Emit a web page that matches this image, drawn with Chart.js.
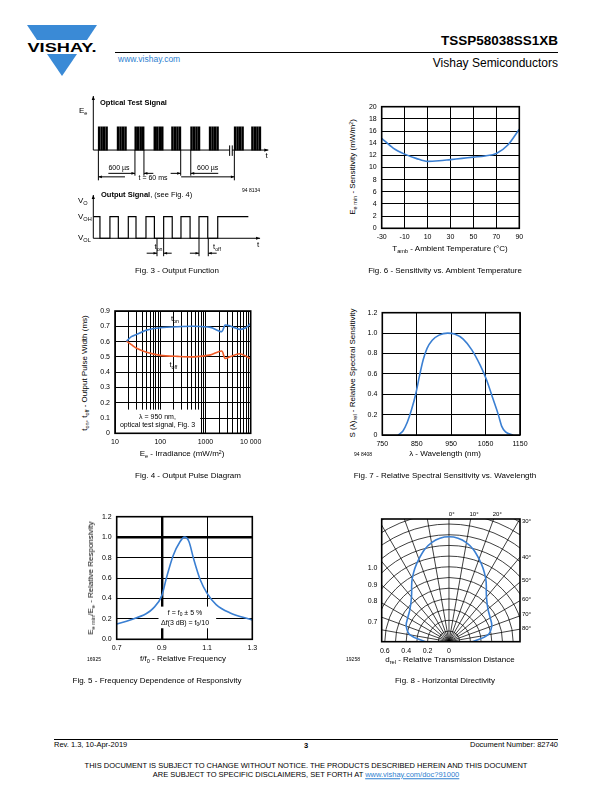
<!DOCTYPE html>
<html><head><meta charset="utf-8"><title>TSSP58038SS1XB</title>
<script src="https://cdn.jsdelivr.net/npm/chart.js@4.4.1/dist/chart.umd.min.js"></script>
<style>
html,body{margin:0;padding:0;background:#fff;}
#page{position:relative;width:612px;height:792px;overflow:hidden;background:#fff;font-family:"Liberation Sans",Arial,Helvetica,sans-serif;color:#000;}
#page canvas{position:absolute;}
.t{position:absolute;white-space:nowrap;line-height:1;}
.t sub{font-size:70%;vertical-align:-0.3em;line-height:0;}
.t sup{font-size:65%;vertical-align:0.45em;line-height:0;}
.rule{position:absolute;height:0;border-top:1px solid #000;}
a{color:#2f7fd0;}
</style></head>
<body><div id="page">
<svg style="position:absolute;left:0;top:0" width="110" height="80">
  <polygon points="27,25 97,25 87,40 37,40" fill="#3a8ad6"/>
  <polygon points="47,54 77,54 62,76" fill="#3a8ad6"/>
  <text x="62" y="51.5" text-anchor="middle" font-family="Liberation Sans, Arial" font-weight="bold" font-size="13" textLength="69" lengthAdjust="spacingAndGlyphs">VISHAY.</text>
</svg>
<div class="rule" style="left:115px;top:52px;width:443px"></div>
<div class="rule" style="left:54px;top:739px;width:504px"></div>
<canvas id="c3a"></canvas><canvas id="c3b"></canvas>
<canvas id="c6"></canvas><canvas id="c4"></canvas><canvas id="c7"></canvas>
<canvas id="c5"></canvas><canvas id="c8"></canvas>
</div>
<script>
// ---------------- DATA ----------------
// Fig. 3 - Output Function (diagram units along time axis)
const burstStarts3 = [2.9, 13.7, 23.8, 34.7, 44.8, 55.7, 66.3, 80.6, 90.5];
const pulseOffsets3 = [0.43, 1.86, 3.29, 4.71];
const outTimes3 = [0, 3.8, 9.5, 14.3, 20, 24.4, 30.1, 34.9, 40.2, 45.1, 50.1, 55.3, 60.4, 65.4, 71.1, 88.6];
const outLevels3 = [1, 0, 1, 0, 1, 0, 1, 0, 1, 0, 1, 0, 1, 0, 1, 1];
// Fig. 6 - Sensitivity vs. ambient temperature
const temp6 = [-30, -20, -10, 0, 10, 20, 30, 40, 50, 60, 70, 80, 90];
const sens6 = [14.8, 13.2, 12.2, 11.5, 11.0, 11.1, 11.3, 11.5, 11.7, 11.9, 12.3, 13.7, 16.3];
const xTicks6 = [-30, -10, 10, 30, 50, 70, 90];
const yTicks6 = [0, 2, 4, 6, 8, 10, 12, 14, 16, 18, 20];
// Fig. 4 - Output pulse diagram
const irr4 = [18, 23, 30, 50, 100, 240, 550, 1300, 2290, 2700, 3400, 5700, 7800, 10000];
const ton4 = [0.603, 0.632, 0.647, 0.675, 0.69, 0.697, 0.70, 0.693, 0.665, 0.708, 0.703, 0.68, 0.69, 0.719];
const toff4 = [0.603, 0.58, 0.556, 0.53, 0.51, 0.503, 0.50, 0.513, 0.538, 0.49, 0.50, 0.52, 0.505, 0.486];
const xMajor4 = [10, 100, 1000, 10000];
const xLabels4 = ['10', '100', '1000', '10 000'];
const yTicks4 = [0, 0.1, 0.2, 0.3, 0.4, 0.5, 0.6, 0.7, 0.8];
const yLabels4 = ['0', '0.1', '0.2', '0.3', '0.4', '0.5', '0.6', '0.7', '0.9'];
// Fig. 7 - Relative spectral sensitivity
const wl7 = [796, 810, 822, 835, 847, 858, 869, 880, 895, 915, 940, 960, 985, 1010, 1035, 1053, 1072, 1087, 1097, 1108, 1130];
const srel7 = [0, 0.04, 0.12, 0.25, 0.40, 0.58, 0.74, 0.85, 0.93, 0.98, 1.0, 0.99, 0.94, 0.835, 0.68, 0.54, 0.35, 0.2, 0.085, 0.03, 0];
const xTicks7 = [750, 850, 950, 1050, 1150];
const yTicks7 = [0, 0.2, 0.4, 0.6, 0.8, 1.0, 1.2];
const yLabels7 = ['0', '0.2', '0.4', '0.6', '0.8', '1.0', '1.2'];
// Fig. 5 - Frequency dependence of responsivity
const f5 = [0.7, 0.76, 0.83, 0.86, 0.90, 0.92, 0.95, 0.98, 1.0, 1.02, 1.04, 1.07, 1.10, 1.14, 1.20, 1.30];
const resp5 = [0.15, 0.19, 0.25, 0.30, 0.43, 0.60, 0.82, 0.955, 1.0, 0.955, 0.79, 0.58, 0.45, 0.34, 0.26, 0.19];
const xTicks5 = [0.7, 0.9, 1.1, 1.3];
const xLabels5 = ['0.7', '0.9', '1.1', '1.3'];
const yTicks5 = [0, 0.2, 0.4, 0.6, 0.8, 1.0, 1.2];
const yLabels5 = ['0.0', '0.2', '0.4', '0.6', '0.8', '1.0', '1.2'];
// Fig. 8 - Horizontal directivity
const angle8 = [-90, -80, -70, -60, -50, -40, -30, -20, -10, 0, 10, 20, 30, 40, 50, 60, 70, 80, 90];
const drel8 = [0.22, 0.37, 0.425, 0.445, 0.475, 0.545, 0.685, 0.82, 0.935, 0.975, 0.935, 0.82, 0.685, 0.545, 0.475, 0.445, 0.425, 0.37, 0.22];
const xTicks8 = [-0.6, -0.4, -0.2, 0];
const xLabels8 = ['0.6', '0.4', '0.2', '0'];
const rings8 = [0.1, 0.2, 0.3, 0.4, 0.5, 0.6, 0.7, 0.8, 0.9, 1.0, 1.1, 1.2, 1.3, 1.4, 1.5];
const spokes8 = [-90, -80, -70, -60, -50, -40, -30, -20, -10, 0, 10, 20, 30, 40, 50, 60, 70, 80, 90];

// ---------------- SETUP ----------------
const BLUE = '#3a7fd2', ORANGE = '#ef5a26';
Chart.defaults.font.family = "'Liberation Sans', Arial, sans-serif";
Chart.defaults.font.size = 7;
Chart.defaults.color = '#000';
Chart.defaults.animation = false;
Chart.defaults.responsive = false;
Chart.defaults.plugins.legend.display = false;
Chart.defaults.plugins.tooltip.enabled = false;

Chart.register({id: 'frame', afterDraw(ch, args, o) {
  if (!o || !o.w) return;
  const a = ch.chartArea, c = ch.ctx;
  c.save(); c.strokeStyle = '#000'; c.lineWidth = o.w;
  c.strokeRect(a.left, a.top, a.width, a.height); c.restore();
}});

const page = document.getElementById('page');
function T(x, y, html, o = {}) {
  const d = document.createElement('div'); d.className = 't'; d.innerHTML = html;
  const a = o.a || 'c'; const tx = a === 'l' ? '0' : a === 'r' ? '-100%' : '-50%';
  d.style.left = x + 'px'; d.style.top = y + 'px'; d.style.fontSize = (o.s || 8) + 'px';
  let tr = `translate(${tx},-50%)`; if (o.rot) tr += ' rotate(-90deg)';
  d.style.transform = tr; if (o.b) d.style.fontWeight = 'bold'; if (o.c) d.style.color = o.c;
  page.appendChild(d); return d;
}

function chartAt(id, box, area, cfg, xShown, yShown) {
  const cv = document.getElementById(id);
  cv.width = box[2]; cv.height = box[3];
  cv.style.left = box[0] + 'px'; cv.style.top = box[1] + 'px';
  const padTop = area[1] - box[1], padRight = box[0] + box[2] - area[2];
  const left = area[0] - box[0], bottom = box[1] + box[3] - area[3];
  cfg.options.layout = {padding: {top: padTop, right: padRight, left: yShown ? 0 : left, bottom: xShown ? 0 : bottom}};
  if (xShown) cfg.options.scales.x.afterFit = s => { s.height = bottom; s.paddingLeft = 0; s.paddingRight = 0; };
  if (yShown) cfg.options.scales.y.afterFit = s => { s.width = left; s.paddingTop = 0; s.paddingBottom = 0; };
  return new Chart(cv, cfg);
}

function axis(type, min, max, ticks, labels, extra = {}) {
  return Object.assign({
    type, min, max, offset: false,
    afterBuildTicks: s => { s.ticks = ticks.map(v => ({value: v})); },
    ticks: {autoSkip: false, maxRotation: 0, padding: 5, color: '#000', font: {size: 7},
      callback: (v, i) => labels[i]},
    grid: {color: '#000', lineWidth: 1, drawTicks: false},
    border: {display: false}
  }, extra);
}
const pts = (xs, ys) => xs.map((x, i) => ({x, y: ys[i]}));
const curve = (data, color, extra = {}) => Object.assign({type: 'line', data, borderColor: color, borderWidth: 1.6,
  pointRadius: 0, cubicInterpolationMode: 'monotone', fill: false}, extra);

function seg(c, x1, y1, x2, y2) { c.beginPath(); c.moveTo(x1, y1); c.lineTo(x2, y2); c.stroke(); }
function head(c, x1, y1, x2, y2, len = 4, w = 1.5) {
  const a = Math.atan2(y2 - y1, x2 - x1), ca = Math.cos(a), sa = Math.sin(a);
  c.beginPath(); c.moveTo(x2, y2);
  c.lineTo(x2 - len * ca + w * sa, y2 - len * sa - w * ca);
  c.lineTo(x2 - len * ca - w * sa, y2 - len * sa + w * ca); c.closePath(); c.fill();
}
function arr(c, x1, y1, x2, y2, len, w) { seg(c, x1, y1, x2, y2); head(c, x1, y1, x2, y2, len, w); }

// ---------------- FIG. 3 (optical test signal) ----------------
const burstLen3 = pulseOffsets3[pulseOffsets3.length - 1] + pulseOffsets3[0];
const pulses3 = burstStarts3.flatMap(s => pulseOffsets3.map(o => ({x: s + o, y: [0, 1]})));
chartAt('c3a', [85, 90, 190, 100], [93.3, 96, 268.3, 185], {
  type: 'bar',
  data: {datasets: [{type: 'bar', data: pulses3, backgroundColor: '#000', borderWidth: 0, barThickness: 1.8, grouped: false}]},
  options: {scales: {x: {type: 'linear', min: 0, max: 100, display: false, offset: false},
                     y: {type: 'linear', min: -1.5, max: 2.32, display: false}}},
  plugins: [{id: 'dimsA', afterDatasetsDraw(ch) {
    const c = ch.ctx, X = v => ch.scales.x.getPixelForValue(v), Y = v => ch.scales.y.getPixelForValue(v);
    c.save(); c.strokeStyle = '#000'; c.fillStyle = '#000'; c.lineWidth = 1;
    arr(c, X(0), Y(0), X(0), Y(2.32), 4, 1.6);
    arr(c, X(0), Y(0), X(100), Y(0), 4, 1.6);
    // break mark
    c.fillStyle = '#fff'; c.fillRect(X(78.0), Y(0.2), X(79.3) - X(78.0), Y(-0.25) - Y(0.2)); c.fillStyle = '#000';
    seg(c, X(77.9), Y(0.2), X(77.9), Y(-0.25)); seg(c, X(79.4), Y(0.2), X(79.4), Y(-0.25));
    const b = burstStarts3;
    [[b[0], -1.3], [b[2], -1.1], [b[2] + burstLen3, -1.1], [b[4] + burstLen3, -1.1], [b[5], -1.1], [b[7], -1.3]]
      .forEach(([u, l]) => seg(c, X(u), Y(0), X(u), Y(l)));
    arr(c, X(8.6), Y(-1.0), X(b[2]), Y(-1.0), 3.5, 1.3);
    arr(c, X(34.3), Y(-1.0), X(b[2] + burstLen3), Y(-1.0), 3.5, 1.3);
    arr(c, X(44.2), Y(-1.0), X(b[4] + burstLen3), Y(-1.0), 3.5, 1.3);
    arr(c, X(71.4), Y(-1.0), X(b[5]), Y(-1.0), 3.5, 1.3);
    arr(c, X(18.1), Y(-1.15), X(b[0]), Y(-1.15), 3.5, 1.3);
    arr(c, X(50.2), Y(-1.15), X(b[7]), Y(-1.15), 3.5, 1.3);
    c.restore();
  }}]
}, false, false);

// ---------------- FIG. 3 (output signal) ----------------
chartAt('c3b', [85, 190, 190, 72], [93.3, 195, 268.3, 258], {
  type: 'line',
  data: {datasets: [{data: pts(outTimes3, outLevels3), stepped: true, borderColor: '#000', borderWidth: 1.2, pointRadius: 0}]},
  options: {scales: {x: {type: 'linear', min: 0, max: 100, display: false},
                     y: {type: 'linear', min: -0.912, max: 2.0, display: false}}},
  plugins: [{id: 'dimsB', afterDatasetsDraw(ch) {
    const c = ch.ctx, X = v => ch.scales.x.getPixelForValue(v), Y = v => ch.scales.y.getPixelForValue(v);
    c.save(); c.strokeStyle = '#000'; c.fillStyle = '#000'; c.lineWidth = 1;
    arr(c, X(0), Y(0), X(0), Y(2.0), 4, 1.6);
    arr(c, X(0), Y(0), X(95.3), Y(0), 4, 1.6);
    [36.4, 40.2, outTimes3[12], 65.7].forEach(u => seg(c, X(u), Y(0), X(u), Y(-0.83)));
    arr(c, X(30.5), Y(-0.69), X(36.4), Y(-0.69), 3.5, 1.3);
    arr(c, X(44.8), Y(-0.69), X(40.2), Y(-0.69), 3.5, 1.3);
    arr(c, X(55.2), Y(-0.69), X(outTimes3[12]), Y(-0.69), 3.5, 1.3);
    arr(c, X(70.5), Y(-0.69), X(65.7), Y(-0.69), 3.5, 1.3);
    c.restore();
  }}]
}, false, false);

// ---------------- FIG. 6 ----------------
chartAt('c6', [360, 100, 170, 145], [381.7, 106.7, 519.3, 228.3], {
  type: 'line',
  data: {datasets: [curve(pts(temp6, sens6), BLUE)]},
  options: {scales: {x: axis('linear', -30, 90, xTicks6, xTicks6.map(String)),
                     y: axis('linear', 0, 20, yTicks6, yTicks6.map(String))},
            plugins: {frame: {w: 1.6}}}
}, true, true);

// ---------------- FIG. 4 ----------------
const logTicks4 = xMajor4.flatMap((d, k) => k < xMajor4.length - 1 ? [1, 2, 3, 4, 5, 6, 7, 8, 9].map(m => d * m) : [d]);
chartAt('c4', [90, 305, 175, 145], [115, 311, 250.7, 433.3], {
  type: 'line',
  data: {datasets: [curve(pts(irr4, ton4), BLUE, {cubicInterpolationMode: 'default', tension: 0.25}),
                    curve(pts(irr4, toff4), ORANGE, {cubicInterpolationMode: 'default', tension: 0.25})]},
  options: {scales: {x: axis('logarithmic', 10, 10000, logTicks4, logTicks4.map(v => {
                        const k = xMajor4.indexOf(v); return k >= 0 ? xLabels4[k] : ''; })),
                     y: axis('linear', 0, 0.8, yTicks4, yLabels4)},
            plugins: {frame: {w: 1.6}}},
  plugins: [{id: 'box4', beforeDatasetsDraw(ch) {
    const c = ch.ctx, X = v => ch.scales.x.getPixelForValue(v), Y = v => ch.scales.y.getPixelForValue(v);
    c.save(); c.fillStyle = '#fff'; c.fillRect(X(10) + 1, Y(0.155), X(760) - X(10) - 1, Y(0) - Y(0.155)); c.restore();
  }}]
}, true, true);

// ---------------- FIG. 7 ----------------
chartAt('c7', [360, 305, 175, 145], [382.3, 312.7, 520, 435], {
  type: 'line',
  data: {datasets: [curve(pts(wl7, srel7), BLUE)]},
  options: {scales: {x: axis('linear', 750, 1150, xTicks7, xTicks7.map(String)),
                     y: axis('linear', 0, 1.2, yTicks7, yLabels7)},
            plugins: {frame: {w: 1.6}}}
}, true, true);

// ---------------- FIG. 5 ----------------
chartAt('c5', [90, 510, 175, 145], [116.7, 516.7, 252.3, 639.3], {
  type: 'line',
  data: {datasets: [curve(pts(f5, resp5), BLUE)]},
  options: {scales: {
      x: axis('linear', 0.7, 1.3, xTicks5, xLabels5, {}),
      y: axis('linear', 0, 1.2, yTicks5, yLabels5, {})},
    plugins: {frame: {w: 1.6}}},
  plugins: [{id: 'box5', beforeDatasetsDraw(ch) {
    const c = ch.ctx, X = v => ch.scales.x.getPixelForValue(v), Y = v => ch.scales.y.getPixelForValue(v);
    c.save(); c.fillStyle = '#fff'; c.fillRect(X(0.885), Y(0.32), X(1.14) - X(0.885), Y(0.108) - Y(0.32)); c.restore();
  }}]
}, true, true);
(function () { // thick reference lines at f/f0 = 0.9 and 1.0
  const ch = Chart.getChart('c5');
  ch.options.scales.x.grid.lineWidth = ctx => (ctx.tick && ctx.tick.value === 0.9 ? 2.4 : 1);
  ch.options.scales.y.grid.lineWidth = ctx => (ctx.tick && ctx.tick.value === 1.0 ? 2.4 : 1);
  ch.update();
})();

// ---------------- FIG. 8 ----------------
const rad = d => d * Math.PI / 180;
const polar8 = angle8.map((a, i) => ({x: drel8[i] * Math.sin(rad(a)), y: drel8[i] * Math.cos(rad(a))}));
chartAt('c8', [370, 510, 160, 150], [381.7, 519, 520, 641.7], {
  type: 'scatter',
  data: {datasets: [{data: polar8, showLine: true, borderColor: BLUE, borderWidth: 1.6, pointRadius: 0, tension: 0.4}]},
  options: {scales: {x: axis('linear', -0.629, 0.664, xTicks8, xLabels8, {grid: {display: false, drawTicks: false}}),
                     y: {type: 'linear', min: 0, max: 1.14, display: false}},
            plugins: {frame: {w: 1.6}}},
  plugins: [{id: 'polarGrid', beforeDatasetsDraw(ch) {
    const c = ch.ctx, a = ch.chartArea, sx = ch.scales.x, sy = ch.scales.y;
    const cx = sx.getPixelForValue(0), cy = sy.getPixelForValue(0), k = sx.getPixelForValue(1) - cx;
    c.save(); c.beginPath(); c.rect(a.left, a.top, a.width, a.height); c.clip();
    c.strokeStyle = '#000'; c.lineWidth = 0.75;
    rings8.forEach(r => { c.beginPath(); c.arc(cx, cy, r * k, Math.PI, 2 * Math.PI); c.stroke(); });
    spokes8.forEach(d => { c.beginPath(); c.moveTo(cx, cy); c.lineTo(cx + 2 * k * Math.sin(rad(d)), cy - 2 * k * Math.cos(rad(d))); c.stroke(); });
    c.restore();
  }}]
}, true, false);

// ---------------- TEXT ----------------
// header
T(558, 41, 'TSSP58038SS1XB', {a: 'r', s: 13.5, b: 1});
T(558, 63, 'Vishay Semiconductors', {a: 'r', s: 12});
T(118, 59, 'www.vishay.com', {a: 'l', s: 8.5, c: '#2f7fd0'});
// fig 3
T(79, 111, 'E<sub>e</sub>', {a: 'l', s: 8});
T(100, 102.5, 'Optical Test Signal', {a: 'l', s: 7.5, b: 1});
T(266.5, 156, 't', {s: 8});
T(119, 167, '600 µs', {s: 7});
T(207.7, 167, '600 µs', {s: 7});
T(153, 176.5, 't = 60 ms', {s: 7});
T(78, 201, 'V<sub>O</sub>', {a: 'l', s: 8});
T(78, 216.5, 'V<sub>OH</sub>', {a: 'l', s: 8});
T(78, 238, 'V<sub>OL</sub>', {a: 'l', s: 8});
T(101, 195, '<b>Output Signal</b>, (see Fig. 4)', {a: 'l', s: 7.5});
T(251, 190, '94 8134', {s: 5});
T(158.5, 246.5, 't<sub>on</sub>', {s: 7.5});
T(217, 246.5, 't<sub>off</sub>', {s: 7.5});
T(258, 245, 't', {s: 8});
T(177, 271, 'Fig. 3 - Output Function', {s: 8});
// fig 6
T(352.7, 167, 'E<sub>e min</sub> - Sensitivity (mW/m<sup>2</sup>)', {s: 8, rot: 1});
T(450, 249, 'T<sub>amb</sub> - Ambient Temperature (°C)', {s: 8});
T(445, 271, 'Fig. 6 - Sensitivity vs. Ambient Temperature', {s: 8});
// fig 4
T(85, 373, 't<sub>on</sub>, t<sub>off</sub> - Output Pulse Width (ms)', {s: 8, rot: 1});
T(182, 454.3, 'E<sub>e</sub> - Irradiance (mW/m<sup>2</sup>)', {s: 8});
T(175, 319, 't<sub>on</sub>', {s: 7.5});
T(173.3, 365, 't<sub>off</sub>', {s: 7.5});
T(157.5, 415.7, 'λ = 950 nm,', {s: 7});
T(157.5, 424, 'optical test signal, Fig. 3', {s: 7});
T(188, 476, 'Fig. 4 - Output Pulse Diagram', {s: 8});
// fig 7
T(353.3, 373, 'S (λ)<sub>rel</sub> - Relative Spectral Sensitivity', {s: 8, rot: 1});
T(445, 454, 'λ - Wavelength (nm)', {s: 8});
T(363, 454, '94 8408', {s: 5});
T(445, 476, 'Fig. 7 - Relative Spectral Sensitivity vs. Wavelength', {s: 8});
// fig 5
T(90.7, 578, 'E<sub>e min</sub>/E<sub>e</sub> - Relative Responsivity', {s: 8, rot: 1});
T(183, 658.5, 'f/f<sub>0</sub> - Relative Frequency', {s: 8});
T(94, 659, '16925', {s: 5});
T(185, 612.3, 'f = f<sub>0</sub> ± 5 %', {s: 7});
T(185, 621.7, 'Δf(3 dB) = f<sub>0</sub>/10', {s: 7});
T(157, 681, 'Fig. 5 - Frequency Dependence of Responsivity', {s: 8});
// fig 8
T(451.7, 514.3, '0°', {s: 6}); T(474, 514.3, '10°', {s: 6}); T(497.3, 514.3, '20°', {s: 6});
[['30°', 521], ['40°', 556.7], ['50°', 580], ['60°', 599], ['70°', 614], ['80°', 627.7]]
  .forEach(([s, y]) => T(522, y, s, {a: 'l', s: 6}));
[['1.0', 567], ['0.9', 584], ['0.8', 599.5], ['0.7', 620.5]].forEach(([s, y]) => T(377.5, y, s, {a: 'r', s: 7}));
T(450, 660, 'd<sub>rel</sub> - Relative Transmission Distance', {s: 8});
T(353, 659, '19258', {s: 5});
T(445, 681, 'Fig. 8 - Horizontal Directivity', {s: 8});
// footer
T(54, 745, 'Rev. 1.3, 10-Apr-2019', {a: 'l', s: 7.5});
T(306, 746, '3', {s: 7.5, b: 1});
T(558, 745, 'Document Number: 82740', {a: 'r', s: 7.5});
T(306, 766, 'THIS DOCUMENT IS SUBJECT TO CHANGE WITHOUT NOTICE. THE PRODUCTS DESCRIBED HEREIN AND THIS DOCUMENT', {s: 7.5});
T(306, 775, 'ARE SUBJECT TO SPECIFIC DISCLAIMERS, SET FORTH AT <a href="#">www.vishay.com/doc?91000</a>', {s: 7.5});
</script>
</body></html>
